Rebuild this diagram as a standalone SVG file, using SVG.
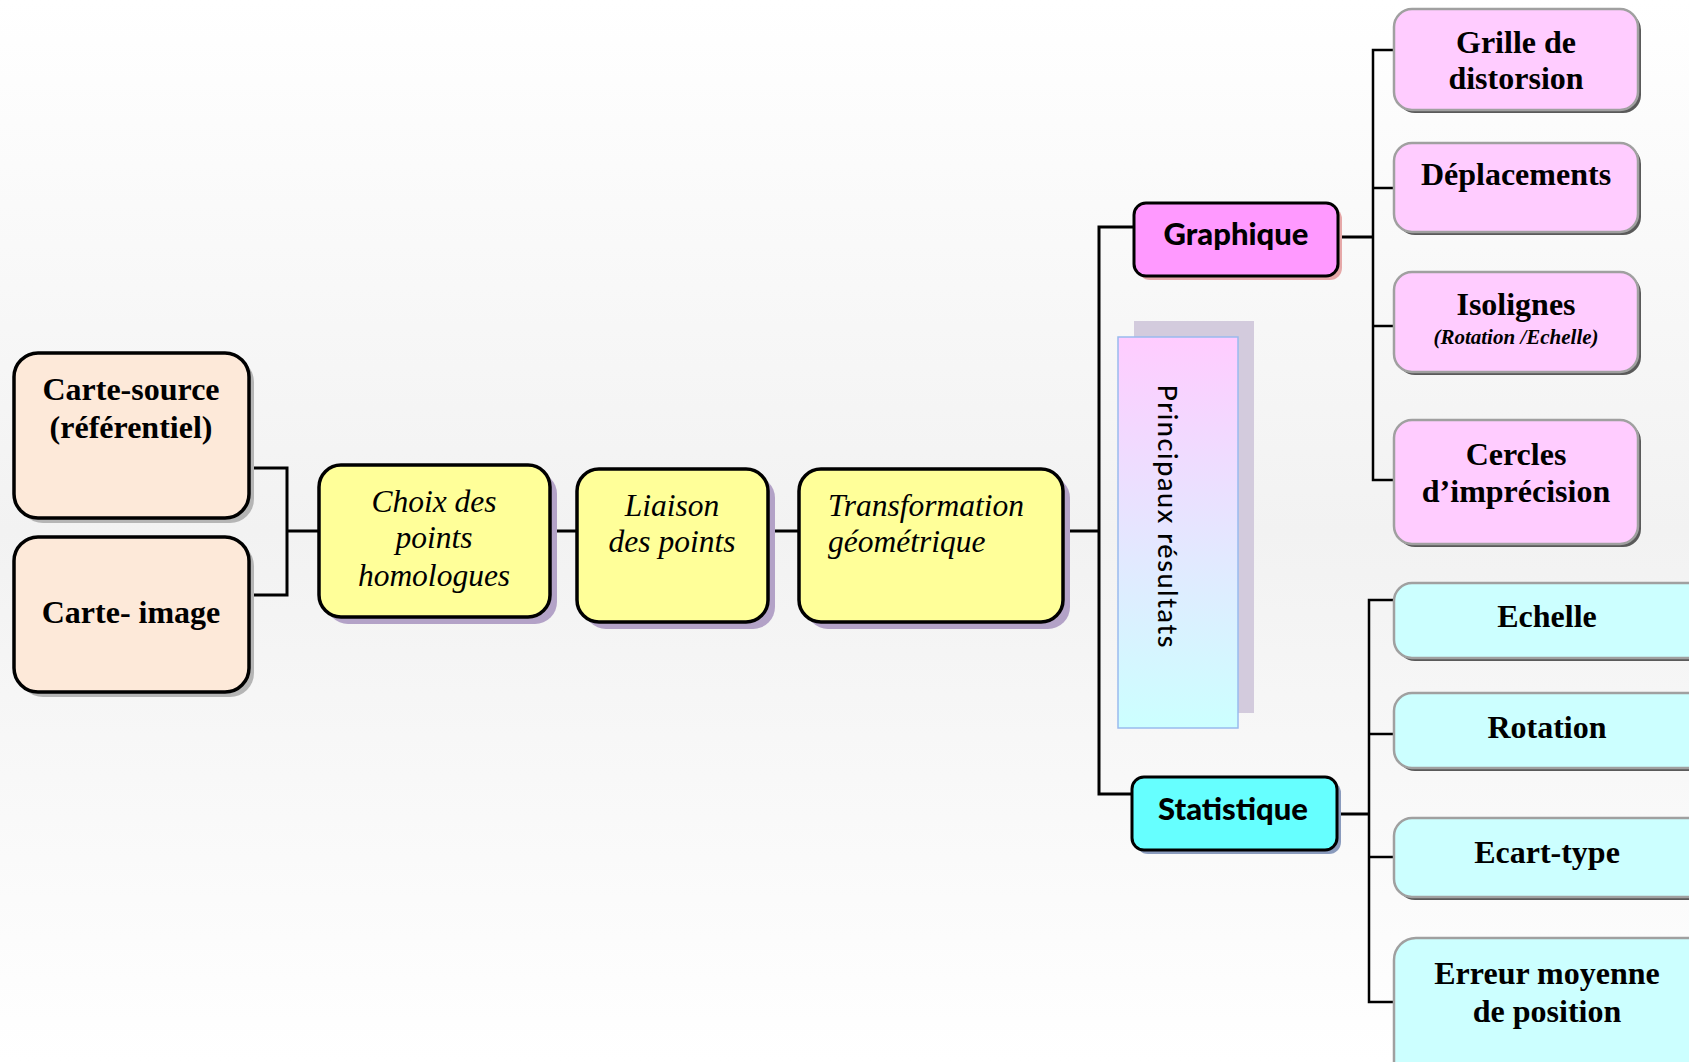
<svg xmlns="http://www.w3.org/2000/svg" width="1689" height="1062" viewBox="0 0 1689 1062">
<defs>
<linearGradient id="bg" x1="0" y1="0" x2="0" y2="1">
<stop offset="0" stop-color="#ffffff"/>
<stop offset="0.5" stop-color="#f2f2f2"/>
<stop offset="1" stop-color="#ffffff"/>
</linearGradient>
<linearGradient id="pr" x1="0" y1="0" x2="0" y2="1">
<stop offset="0" stop-color="#ffccff"/>
<stop offset="1" stop-color="#ccffff"/>
</linearGradient>
<style>
.line{fill:none;stroke:#000;stroke-width:3}
.thin{fill:none;stroke:#000;stroke-width:2.5}
.peach{fill:#fde9d9;stroke:#000;stroke-width:3.5}
.peachsh{fill:#b5b5b5}
.yel{fill:#ffff99;stroke:#000;stroke-width:3.5}
.yelsh{fill:#b3a2c7}
.pink{fill:#ffccff;stroke:#a0a0a0;stroke-width:2.5}
.cyan{fill:#ccffff;stroke:#a0a0a0;stroke-width:2.5}
.bsh{fill:#5a5a5a}
.tb{font-family:"Liberation Serif","Times New Roman",serif;font-weight:bold;font-size:32px;fill:#000;text-anchor:middle}
.tsub{font-family:"Liberation Serif","Times New Roman",serif;font-weight:bold;font-style:italic;font-size:21px;fill:#000;text-anchor:middle}
.ti{font-family:"Liberation Serif","Times New Roman",serif;font-style:italic;font-size:31.5px;fill:#000}
.ts{font-family:Lato,"Open Sans",sans-serif;font-weight:900;font-size:31px;fill:#000;text-anchor:middle}
.tv{font-family:Lato,"Open Sans",sans-serif;font-weight:500;font-size:27px;fill:#000;text-anchor:middle}
</style>
</defs>
<rect x="0" y="0" width="1689" height="1062" fill="url(#bg)"/>

<g id="connectors">
<polyline class="line" points="249,468 287,468 287,595 249,595"/>
<line class="line" x1="287" y1="531" x2="319" y2="531"/>
<line class="line" x1="550" y1="531" x2="577" y2="531"/>
<line class="line" x1="768" y1="531" x2="799" y2="531"/>
<line class="line" x1="1063" y1="531" x2="1099" y2="531"/>
<polyline class="line" points="1134,227 1099,227 1099,794 1132,794"/>
<line class="line" x1="1338" y1="237" x2="1373" y2="237"/>
<polyline class="thin" points="1394,50 1373,50 1373,480 1394,480"/>
<line class="thin" x1="1373" y1="188" x2="1394" y2="188"/>
<line class="thin" x1="1373" y1="326" x2="1394" y2="326"/>
<line class="line" x1="1337" y1="814" x2="1369" y2="814"/>
<polyline class="thin" points="1394,600 1369,600 1369,1002 1394,1002"/>
<line class="thin" x1="1369" y1="734" x2="1394" y2="734"/>
<line class="thin" x1="1369" y1="857" x2="1394" y2="857"/>
</g>

<g id="carte-source">
<rect class="peachsh" x="19" y="358" width="235" height="165" rx="24"/>
<rect class="peach" x="14" y="353" width="235" height="165" rx="24"/>
<text class="tb" x="131" y="400">Carte-source</text>
<text class="tb" x="131" y="438">(référentiel)</text>
</g>

<g id="carte-image">
<rect class="peachsh" x="19" y="542" width="235" height="155" rx="24"/>
<rect class="peach" x="14" y="537" width="235" height="155" rx="24"/>
<text class="tb" x="131" y="623">Carte- image</text>
</g>

<g id="choix">
<rect class="yelsh" x="326" y="472" width="231" height="152" rx="22"/>
<rect class="yel" x="319" y="465" width="231" height="152" rx="22"/>
<text class="ti" x="434" y="512" text-anchor="middle">Choix des</text>
<text class="ti" x="434" y="548" text-anchor="middle">points</text>
<text class="ti" x="434" y="586" text-anchor="middle">homologues</text>
</g>

<g id="liaison">
<rect class="yelsh" x="584" y="476" width="191" height="153" rx="22"/>
<rect class="yel" x="577" y="469" width="191" height="153" rx="22"/>
<text class="ti" x="672" y="516" text-anchor="middle">Liaison</text>
<text class="ti" x="672" y="552" text-anchor="middle">des points</text>
</g>

<g id="transformation">
<rect class="yelsh" x="806" y="476" width="264" height="153" rx="22"/>
<rect class="yel" x="799" y="469" width="264" height="153" rx="22"/>
<text class="ti" x="828" y="516">Transformation</text>
<text class="ti" x="828" y="552">géométrique</text>
</g>

<g id="principaux">
<rect x="1134" y="321" width="120" height="392" fill="#d3cbdd"/>
<rect x="1118" y="337" width="120" height="391" fill="url(#pr)" stroke="#99bbee" stroke-width="1.5"/>
<text class="tv" transform="translate(1158,516) rotate(90)" textLength="263" lengthAdjust="spacing">Principaux résultats</text>
</g>

<g id="graphique">
<rect x="1138" y="207" width="204" height="73" rx="12" fill="#e6a8a8"/>
<rect x="1134" y="203" width="204" height="73" rx="12" fill="#ff99ff" stroke="#000" stroke-width="3"/>
<text class="ts" x="1236" y="245">Graphique</text>
</g>

<g id="statistique">
<rect x="1136" y="781" width="205" height="73" rx="12" fill="#8a9bbd"/>
<rect x="1132" y="777" width="205" height="73" rx="12" fill="#66ffff" stroke="#000" stroke-width="3"/>
<text class="ts" x="1233" y="820">Statistique</text>
</g>

<g id="grille">
<rect class="bsh" x="1397" y="12" width="244" height="101" rx="18"/>
<rect class="pink" x="1394" y="9" width="244" height="101" rx="18"/>
<text class="tb" x="1516" y="53">Grille de</text>
<text class="tb" x="1516" y="89">distorsion</text>
</g>

<g id="deplacements">
<rect class="bsh" x="1397" y="146" width="244" height="89" rx="18"/>
<rect class="pink" x="1394" y="143" width="244" height="89" rx="18"/>
<text class="tb" x="1516" y="185">Déplacements</text>
</g>

<g id="isolignes">
<rect class="bsh" x="1397" y="275" width="244" height="100" rx="18"/>
<rect class="pink" x="1394" y="272" width="244" height="100" rx="18"/>
<text class="tb" x="1516" y="315">Isolignes</text>
<text class="tsub" x="1516" y="344">(Rotation /Echelle)</text>
</g>

<g id="cercles">
<rect class="bsh" x="1397" y="423" width="244" height="124" rx="18"/>
<rect class="pink" x="1394" y="420" width="244" height="124" rx="18"/>
<text class="tb" x="1516" y="465">Cercles</text>
<text class="tb" x="1516" y="502">d’imprécision</text>
</g>

<g id="echelle">
<rect class="bsh" x="1397" y="586" width="320" height="75" rx="18"/>
<rect class="cyan" x="1394" y="583" width="320" height="75" rx="18"/>
<text class="tb" x="1547" y="627">Echelle</text>
</g>

<g id="rotation">
<rect class="bsh" x="1397" y="696" width="320" height="75" rx="18"/>
<rect class="cyan" x="1394" y="693" width="320" height="75" rx="18"/>
<text class="tb" x="1547" y="738">Rotation</text>
</g>

<g id="ecart-type">
<rect class="bsh" x="1397" y="821" width="320" height="79" rx="18"/>
<rect class="cyan" x="1394" y="818" width="320" height="79" rx="18"/>
<text class="tb" x="1547" y="863">Ecart-type</text>
</g>

<g id="erreur">
<rect class="bsh" x="1397" y="941" width="320" height="150" rx="22"/>
<rect class="cyan" x="1394" y="938" width="320" height="150" rx="22"/>
<text class="tb" x="1547" y="984">Erreur moyenne</text>
<text class="tb" x="1547" y="1022">de position</text>
</g>
</svg>
